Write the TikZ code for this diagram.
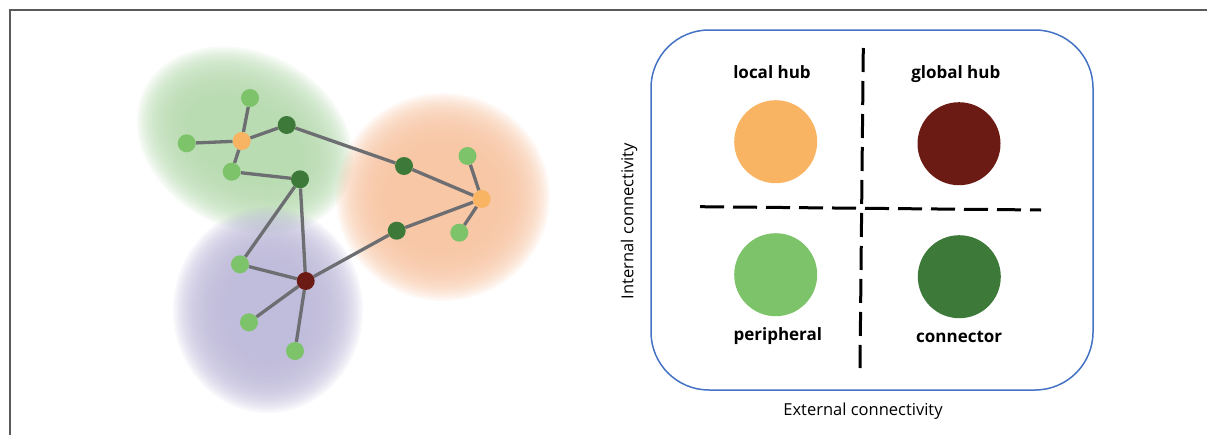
\documentclass[tikz,border=0pt]{standalone}
\usepackage{fontspec}
\setmainfont{Open Sans}
\definecolor{lgreen}{RGB}{125,195,106}
\definecolor{hubor}{RGB}{249,180,99}
\definecolor{dgreen}{RGB}{61,122,57}
\definecolor{dred}{RGB}{107,27,19}
\definecolor{edgegray}{RGB}{109,110,113}
\definecolor{panelblue}{RGB}{68,114,196}
\definecolor{framegray}{RGB}{90,90,90}
\definecolor{blobgreen}{RGB}{182,218,175}
\definecolor{bloborange}{RGB}{247,196,162}
\definecolor{blobpurple}{RGB}{189,185,217}
\pgfdeclarelayer{blobs}
\pgfdeclarelayer{edges}
\pgfsetlayers{blobs,edges,main}
\newcommand\myblob[6]{%
  \foreach \k in {0,...,29}{%
    \fill[#6, opacity=0.1, rotate around={#5:(#1,#2)}] (#1,#2) ellipse ({#3-\k*1.9} and {#4-\k*1.9});
  }}
\begin{document}
\begin{tikzpicture}[x=1pt,y=-1pt,
  edge/.style={draw=edgegray, line width=3.3pt},
  nd/.style={circle, inner sep=0pt, minimum size=18pt, fill=#1},
  bigdot/.style={circle, inner sep=0pt, minimum size=83pt, fill=#1},
  lbl/.style={font=\bfseries\fontsize{17}{20}\selectfont, anchor=base, inner sep=0pt},
  axislbl/.style={font=\fontsize{16.5}{20}\selectfont, anchor=base, inner sep=0pt},
  dashln/.style={draw=black, line width=3pt, dash pattern=on 24pt off 9pt},
]
\useasboundingbox (0,0) rectangle (1207,434);
% frame
\coordinate (f1) at (10,440);
\coordinate (f2) at (10,10);
\coordinate (f3) at (1215,10);
\draw[framegray, line width=1.4pt] (f1) -- (f2) -- (f3);

% blobs
\begin{pgfonlayer}{blobs}
\myblob{245}{140}{113}{88}{-27}{blobgreen}
\myblob{443}{197}{107}{104}{0}{bloborange}
\myblob{268}{310}{95}{103}{0}{blobpurple}
\end{pgfonlayer}

% network nodes
\node[nd=lgreen] (g1) at (250,98) {};
\node[nd=hubor] (o1) at (241.7,141) {};
\node[nd=lgreen] (g2) at (186.7,143.3) {};
\node[nd=dgreen] (c1) at (286.7,125) {};
\node[nd=lgreen] (g3) at (231.7,171.7) {};
\node[nd=dgreen] (c2) at (300,179.3) {};
\node[nd=dgreen] (c3) at (404,166) {};
\node[nd=hubor] (o2) at (481.7,199) {};
\node[nd=lgreen] (g4) at (467.5,156) {};
\node[nd=lgreen] (g5) at (459.3,232.7) {};
\node[nd=dgreen] (c4) at (396.7,230.7) {};
\node[nd=lgreen] (g6) at (240,264.3) {};
\node[nd=dred] (r1) at (305.7,281) {};
\node[nd=lgreen] (g7) at (249,322.3) {};
\node[nd=lgreen] (g8) at (295,351) {};

\begin{pgfonlayer}{edges}
\draw[edge] (g1) -- (o1);
\draw[edge] (g2) -- (o1);
\draw[edge] (o1) -- (c1);
\draw[edge] (o1) -- (g3);
\draw[edge] (g3) -- (c2);
\draw[edge] (c1) -- (c3);
\draw[edge] (c3) -- (o2);
\draw[edge] (g4) -- (o2);
\draw[edge] (o2) -- (g5);
\draw[edge] (o2) -- (c4);
\draw[edge] (c4) -- (r1);
\draw[edge] (c2) -- (g6);
\draw[edge] (c2) -- (r1);
\draw[edge] (g6) -- (r1);
\draw[edge] (r1) -- (g7);
\draw[edge] (r1) -- (g8);
\end{pgfonlayer}

% right panel
\node[draw=panelblue, line width=1.5pt, rounded corners=58pt, minimum width=442pt, minimum height=360pt, inner sep=0pt] (panel) at (872,210) {};
\node[bigdot=hubor] (lh) at (775.7,141.7) {};
\node[bigdot=dred] (gh) at (959,143.7) {};
\node[bigdot=lgreen] (pp) at (775.7,274.7) {};
\node[bigdot=dgreen] (cn) at (959.3,276.7) {};
\node[lbl] (tlh) at (772,78.3) {local hub};
\node[lbl] (tgh) at (955.8,78.3) {global hub};
\node[lbl] (tpp) at (777.8,340.7) {peripheral};
\node[lbl] (tcn) at (959.2,342.3) {connector};

\coordinate (v1) at (863.3,48);
\coordinate (v2) at (860,368);
\coordinate (h1) at (700,206.7);
\coordinate (h2) at (1041,210);
\draw[dashln] (v1) -- (v2);
\draw[dashln] (h1) -- (h2);

\node[axislbl] (xl) at (863,415) {External connectivity};
\node[axislbl, rotate=90] (yl) at (633.3,221) {Internal connectivity};
\end{tikzpicture}
\end{document}
